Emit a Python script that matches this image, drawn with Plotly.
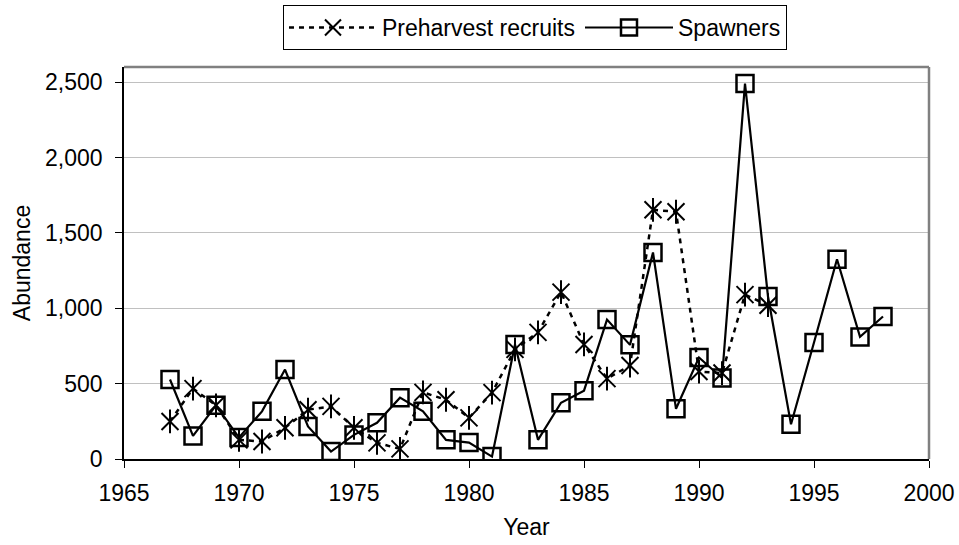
import plotly.graph_objects as go

# Annual abundance series
recruit_years = list(range(1967, 1994))
recruits = [249, 467, 356, 127, 116, 207, 327, 349, 207, 107,
            67, 442, 393, 273, 440, 727, 840, 1107, 760, 533,
            620, 1653, 1640, 580, 570, 1090, 1020]

spawner_years = list(range(1967, 1999))
spawners = [527, 153, 356, 142, 316, 593, 216, 49, 160, 240,
            407, 316, 127, 109, 16, 760, 127, 373, 453, 925,
            757, 1370, 333, 673, 537, 2490, 1078, 230, 773, 1325,
            810, 945]

x_ticks = [1965, 1970, 1975, 1980, 1985, 1990, 1995, 2000]
y_ticks = [0, 500, 1000, 1500, 2000, 2500]
y_tick_text = ["0", "500", "1,000", "1,500", "2,000", "2,500"]

FONT = "Liberation Sans, Arial, sans-serif"
FS = 23

fig = go.Figure()

# Recruits: dotted line with six-armed star markers (x plus vertical bar)
fig.add_trace(go.Scatter(
    x=recruit_years, y=recruits, name="Preharvest recruits",
    mode="lines+markers",
    line=dict(color="black", width=2.5, dash="5px,5px"),
    marker=dict(symbol="x-thin-open", size=17, color="black",
                line=dict(color="black", width=2)),
    legendgroup="rec",
))
fig.add_trace(go.Scatter(
    x=recruit_years, y=recruits, mode="markers", showlegend=False,
    marker=dict(symbol="line-ns-open", size=17, color="black",
                line=dict(color="black", width=2)),
    legendgroup="rec", hoverinfo="skip",
))

# Spawners: solid line with open squares
fig.add_trace(go.Scatter(
    x=spawner_years, y=spawners, name="Spawners",
    mode="lines+markers",
    line=dict(color="black", width=2.2),
    marker=dict(symbol="square-open", size=17, color="black",
                line=dict(color="black", width=2.5)),
))

# Top and right frame of the plot area
fig.add_shape(type="line", xref="paper", yref="paper", x0=0, x1=1, y0=1, y1=1,
              line=dict(color="#808080", width=2.5))
fig.add_shape(type="line", xref="paper", yref="paper", x0=1, x1=1, y0=0, y1=1,
              line=dict(color="#808080", width=2.5))

fig.update_layout(
    width=959, height=545,
    margin=dict(l=124, r=30, t=67, b=86, autoexpand=False),
    paper_bgcolor="white", plot_bgcolor="white",
    font=dict(family=FONT, size=FS, color="black"),
    showlegend=True,
    legend=dict(
        orientation="h", x=0.1975, xanchor="left", y=1.158, yanchor="top",
        bordercolor="black", borderwidth=1, bgcolor="white",
        font=dict(family=FONT, size=FS, color="black"),
        itemwidth=88, traceorder="normal",
    ),
    xaxis=dict(
        range=[1965, 2000], tickvals=x_ticks, ticktext=[str(v) for v in x_ticks],
        showgrid=False, zeroline=False, automargin=False,
        showline=True, linecolor="black", linewidth=1.5,
        ticks="outside", ticklen=7, tickcolor="black", tickwidth=1,
        ticklabelstandoff=6,
        title=dict(text="Year", font=dict(family=FONT, size=FS), standoff=14),
    ),
    yaxis=dict(
        range=[0, 2600], tickvals=y_ticks, ticktext=y_tick_text,
        showgrid=True, gridcolor="#c0c0c0", gridwidth=1, zeroline=False,
        automargin=False,
        showline=True, linecolor="black", linewidth=1.5,
        ticks="outside", ticklen=7, tickcolor="black", tickwidth=1,
        ticklabelstandoff=8,
        title=dict(text="Abundance", font=dict(family=FONT, size=FS), standoff=8),
    ),
)

fig.write_html("out.html")
